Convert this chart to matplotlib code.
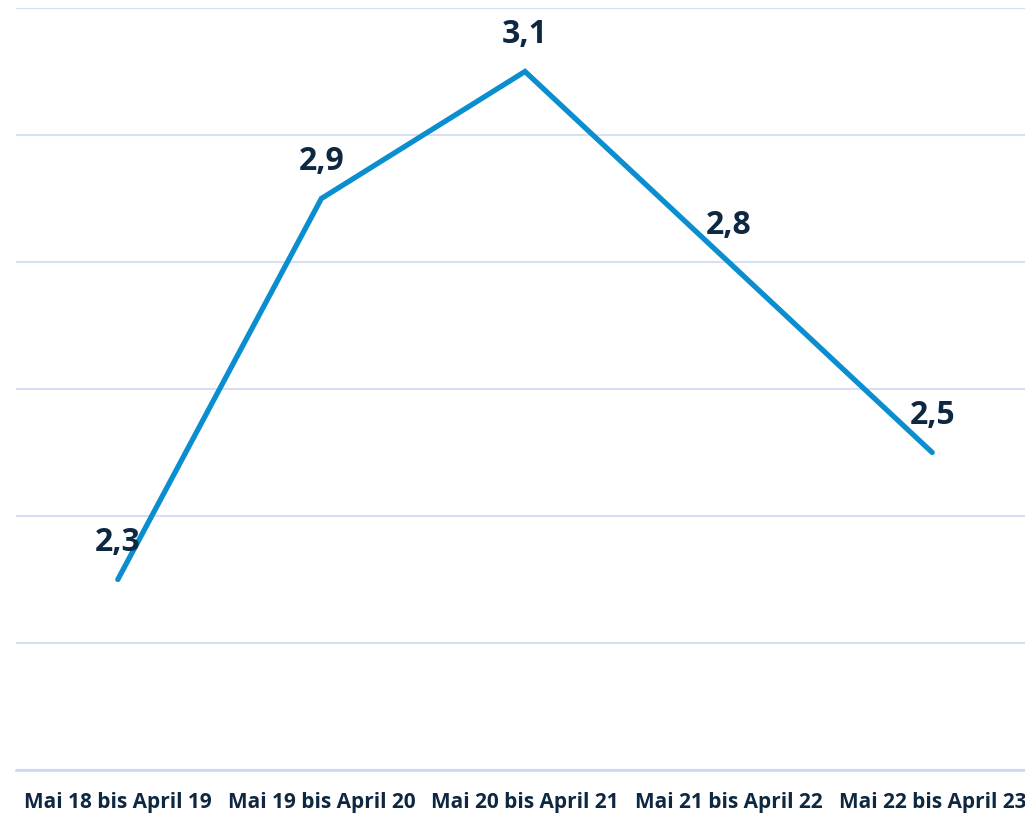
import matplotlib.pyplot as plt

kategorien = ['Mai 18 bis April 19', 'Mai 19 bis April 20', 'Mai 20 bis April 21',
              'Mai 21 bis April 22', 'Mai 22 bis April 23']
werte = [2.3, 2.9, 3.1, 2.8, 2.5]
beschriftung = ['2,3', '2,9', '3,1', '2,8', '2,5']

fig = plt.figure(figsize=(10.25, 8.16), dpi=100)
W, H = 1025, 816
ax = fig.add_axes([16 / W, 1 - 770 / H, 1018 / W, (770 - 8) / H])

x = list(range(len(kategorien)))
ax.plot(x, werte, color='#0A8ECF', linewidth=3.8, solid_capstyle='round',
        solid_joinstyle='miter', zorder=3)

for xi, yi, t in zip(x, werte, beschriftung):
    ax.annotate(t, (xi, yi), xytext=(0, 37), textcoords='offset pixels',
                ha='center', va='center', fontsize=23, fontweight='bold',
                color='#0E2841', family='Open Sans', zorder=4)

ax.set_xlim(-0.5, 4.5)
ax.set_ylim(2.0, 3.2)
ax.set_yticks([2.0, 2.2, 2.4, 2.6, 2.8, 3.0, 3.2])
ax.set_yticklabels([])
ax.grid(axis='y', color='#D6E0F2', linewidth=1.5)
ax.set_axisbelow(True)
ax.set_xticks(x)
ax.set_xticklabels(kategorien, fontsize=15, fontweight='bold', color='#0E2841',
                   family='Open Sans')
ax.tick_params(axis='both', length=0)
ax.tick_params(axis='x', pad=16)
for s in ['top', 'right', 'left']:
    ax.spines[s].set_visible(False)
ax.spines['bottom'].set_color('#C5D8F2')
ax.spines['bottom'].set_linewidth(1.8)

fig.savefig('out.png', dpi=100)
